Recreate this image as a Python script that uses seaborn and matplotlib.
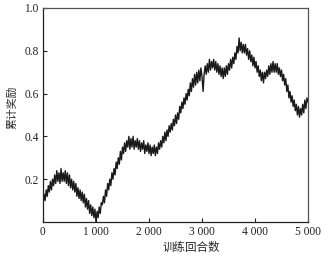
import numpy as np
import pandas as pd
import matplotlib
matplotlib.use("Agg")
import matplotlib.pyplot as plt
import seaborn as sns

episodes = list(range(0, 5001, 20))
reward = [
    0.08, 0.13, 0.10, 0.15, 0.12, 0.17, 0.14, 0.19, 0.15, 0.20,
    0.17, 0.22, 0.18, 0.24, 0.19, 0.23, 0.18, 0.25, 0.19, 0.23,
    0.19, 0.24, 0.18, 0.23, 0.17, 0.22, 0.16, 0.20, 0.15, 0.19,
    0.14, 0.18, 0.12, 0.16, 0.11, 0.15, 0.10, 0.14, 0.09, 0.13,
    0.07, 0.11, 0.06, 0.10, 0.04, 0.08, 0.03, 0.07, 0.02, 0.06,
    0.00, 0.05, 0.02, 0.07, 0.04, 0.09, 0.08, 0.12, 0.09, 0.15,
    0.12, 0.18, 0.15, 0.20, 0.17, 0.23, 0.20, 0.25, 0.22, 0.28,
    0.25, 0.30, 0.27, 0.33, 0.29, 0.35, 0.32, 0.37, 0.33, 0.38,
    0.35, 0.40, 0.34, 0.39, 0.35, 0.40, 0.34, 0.38, 0.35, 0.39,
    0.34, 0.38, 0.33, 0.37, 0.34, 0.38, 0.32, 0.36, 0.33, 0.37,
    0.32, 0.36, 0.31, 0.35, 0.32, 0.36, 0.31, 0.35, 0.32, 0.37,
    0.34, 0.38, 0.35, 0.40, 0.37, 0.42, 0.38, 0.43, 0.40, 0.45,
    0.42, 0.46, 0.43, 0.48, 0.45, 0.50, 0.46, 0.51, 0.48, 0.54,
    0.51, 0.56, 0.53, 0.58, 0.55, 0.60, 0.57, 0.62, 0.59, 0.65,
    0.61, 0.67, 0.63, 0.69, 0.64, 0.70, 0.65, 0.71, 0.66, 0.72,
    0.68, 0.61, 0.69, 0.73, 0.69, 0.74, 0.70, 0.76, 0.71, 0.75,
    0.72, 0.76, 0.71, 0.75, 0.70, 0.74, 0.69, 0.73, 0.68, 0.72,
    0.67, 0.72, 0.68, 0.73, 0.69, 0.74, 0.71, 0.76, 0.72, 0.77,
    0.74, 0.79, 0.76, 0.82, 0.79, 0.86, 0.80, 0.84, 0.79, 0.83,
    0.79, 0.83, 0.78, 0.81, 0.76, 0.80, 0.75, 0.78, 0.73, 0.77,
    0.72, 0.75, 0.70, 0.73, 0.68, 0.71, 0.66, 0.70, 0.65, 0.70,
    0.67, 0.71, 0.68, 0.73, 0.69, 0.74, 0.70, 0.75, 0.70, 0.74,
    0.70, 0.74, 0.69, 0.72, 0.68, 0.71, 0.66, 0.69, 0.64, 0.67,
    0.61, 0.64, 0.58, 0.61, 0.56, 0.59, 0.54, 0.57, 0.52, 0.55,
    0.50, 0.54, 0.49, 0.53, 0.50, 0.55, 0.51, 0.57, 0.53, 0.58,
    0.56,
]
x_ticks = [0, 1000, 2000, 3000, 4000, 5000]
x_tick_labels = ["0", "1 000", "2 000", "3 000", "4 000", "5 000"]
y_ticks = [0.2, 0.4, 0.6, 0.8, 1.0]
y_tick_labels = ["0.2", "0.4", "0.6", "0.8", "1.0"]
x_label = "训练回合数"
y_label = "累计奖励"

sns.set_style("ticks")
plt.rcParams["font.family"] = ["Liberation Serif", "Noto Sans CJK SC"]

df = pd.DataFrame({"episode": episodes, "reward": reward})

fig = plt.figure(figsize=(3.29, 2.60), dpi=100)
ax = fig.add_axes([43 / 329, 38 / 260, 265 / 329, 214 / 260])
sns.lineplot(data=df, x="episode", y="reward", ax=ax, color="#1a1a1a", linewidth=1.0)

ax.set_xlim(0, 5000)
ax.set_ylim(0, 1.0)
ax.set_xticks(x_ticks)
ax.set_xticklabels(x_tick_labels)
ax.set_yticks(y_ticks)
ax.set_yticklabels(y_tick_labels)
ax.tick_params(direction="in", length=3, width=0.8, labelsize=8.3, colors="#222222", pad=3)
for s in ["left", "bottom"]:
    ax.spines[s].set_color("#222222")
    ax.spines[s].set_linewidth(0.9)
for s in ["top", "right"]:
    ax.spines[s].set_visible(True)
    ax.spines[s].set_color("#555555")
    ax.spines[s].set_linewidth(0.9)

ax.set_xlabel(x_label, fontsize=8.3, family=["Noto Sans CJK SC"])
ax.set_ylabel(y_label, fontsize=7.8, family=["Noto Sans CJK SC"])
ax.xaxis.set_label_coords(0.558, -0.088)
ax.yaxis.set_label_coords(-0.095, 0.537)

fig.savefig("out.png", dpi=100)
